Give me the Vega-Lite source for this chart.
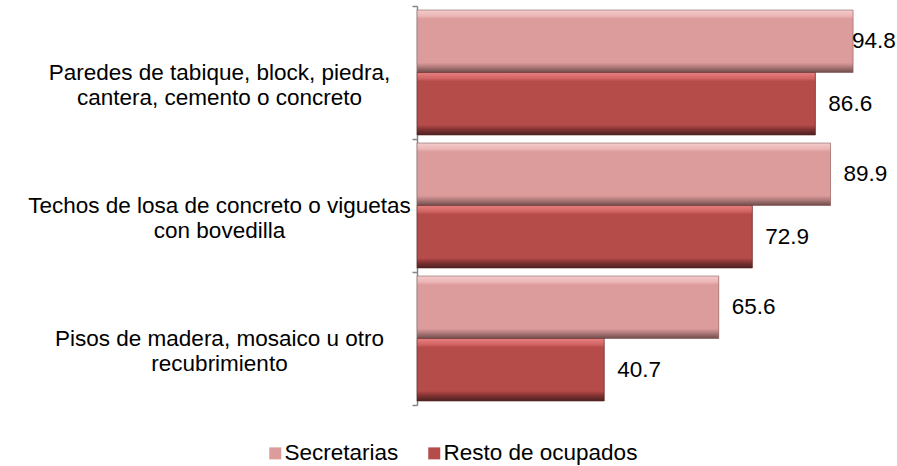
{
  "$schema": "https://vega.github.io/schema/vega-lite/v6.json",
  "width": 460,
  "height": 399,
  "autosize": {"type": "none"},
  "padding": {"left": 417, "top": 6, "right": 20, "bottom": 61},
  "background": "white",
  "config": {"view": {"stroke": null}, "font": "Liberation Sans"},
  "data": {
    "values": [
      {"categoria": "Paredes de tabique, block, piedra,|cantera, cemento o concreto", "grupo": "Secretarias", "valor": 94.8},
      {"categoria": "Paredes de tabique, block, piedra,|cantera, cemento o concreto", "grupo": "Resto de ocupados", "valor": 86.6},
      {"categoria": "Techos de losa de concreto o viguetas|con bovedilla", "grupo": "Secretarias", "valor": 89.9},
      {"categoria": "Techos de losa de concreto o viguetas|con bovedilla", "grupo": "Resto de ocupados", "valor": 72.9},
      {"categoria": "Pisos de madera, mosaico u otro|recubrimiento", "grupo": "Secretarias", "valor": 65.6},
      {"categoria": "Pisos de madera, mosaico u otro|recubrimiento", "grupo": "Resto de ocupados", "valor": 40.7}
    ]
  },
  "encoding": {
    "y": {
      "field": "categoria",
      "type": "nominal",
      "sort": null,
      "scale": {"paddingInner": 0, "paddingOuter": 0},
      "axis": {
        "title": null,
        "domainColor": "#868686",
        "domainWidth": 1.5,
        "tickColor": "#868686",
        "tickWidth": 1.5,
        "tickSize": 5,
        "tickBand": "extent",
        "labelFontSize": 22.5,
        "labelColor": "black",
        "labelAlign": "center",
        "labelBaseline": "middle",
        "labelLineHeight": 25,
        "labelLimit": 0,
        "labelExpr": "split(datum.label, '|')",
        "labelPadding": 193
      }
    },
    "yOffset": {
      "field": "grupo",
      "type": "nominal",
      "sort": ["Secretarias", "Resto de ocupados"],
      "scale": {"paddingOuter": 0.064, "paddingInner": 0}
    },
    "x": {"field": "valor", "type": "quantitative", "scale": {"domain": [0, 100]}, "axis": null}
  },
  "layer": [
    {
      "mark": {"type": "bar"},
      "encoding": {
        "color": {
          "field": "grupo",
          "type": "nominal",
          "sort": ["Secretarias", "Resto de ocupados"],
          "scale": {"domain": ["Secretarias", "Resto de ocupados"], "range": ["#DD9C9C", "#B54C4A"]},
          "legend": {
            "orient": "none",
            "legendX": -153,
            "legendY": 436,
            "direction": "horizontal",
            "title": null,
            "symbolType": "square",
            "symbolSize": 144,
            "symbolStrokeWidth": 0,
            "labelFontSize": 22.5,
            "labelColor": "black",
            "labelLimit": 0,
            "columnPadding": 24,
            "labelOffset": -2,
            "padding": 0
          }
        }
      }
    },
    {
      "transform": [{"filter": "datum.grupo == 'Secretarias'"}],
      "mark": {
        "type": "bar",
        "stroke": "#8a6060",
        "strokeWidth": 0.6,
        "color": {
          "gradient": "linear", "x1": 0, "y1": 0, "x2": 0, "y2": 1,
          "stops": [
            {"offset": 0, "color": "#f4cccc"},
            {"offset": 0.1, "color": "#eab4b4"},
            {"offset": 0.14, "color": "#dd9c9c"},
            {"offset": 0.84, "color": "#dd9c9c"},
            {"offset": 0.9, "color": "#b88080"},
            {"offset": 1, "color": "#6e4a4a"}
          ]
        }
      }
    },
    {
      "transform": [{"filter": "datum.grupo == 'Resto de ocupados'"}],
      "mark": {
        "type": "bar",
        "stroke": "#5a2525",
        "strokeWidth": 0.6,
        "color": {
          "gradient": "linear", "x1": 0, "y1": 0, "x2": 0, "y2": 1,
          "stops": [
            {"offset": 0, "color": "#e88080"},
            {"offset": 0.1, "color": "#d06262"},
            {"offset": 0.14, "color": "#b54c4a"},
            {"offset": 0.84, "color": "#b54c4a"},
            {"offset": 0.9, "color": "#8a3535"},
            {"offset": 1, "color": "#4a2020"}
          ]
        }
      }
    },
    {
      "transform": [{"filter": "datum.valor < 94"}],
      "mark": {"type": "text", "align": "left", "baseline": "middle", "dx": 13, "fontSize": 22.5, "color": "black"},
      "encoding": {"text": {"field": "valor", "type": "quantitative", "format": ".1f"}}
    },
    {
      "transform": [{"filter": "datum.valor >= 94"}],
      "mark": {"type": "text", "align": "left", "baseline": "middle", "dx": -1, "fontSize": 22.5, "color": "black"},
      "encoding": {"text": {"field": "valor", "type": "quantitative", "format": ".1f"}}
    }
  ]
}
